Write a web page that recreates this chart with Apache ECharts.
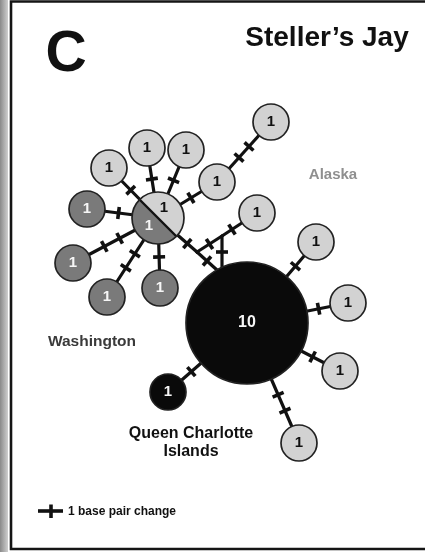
<!DOCTYPE html>
<html><head><meta charset="utf-8">
<script src="https://cdn.jsdelivr.net/npm/echarts@6/dist/echarts.min.js"></script>
<style>html,body{margin:0;padding:0;background:#fff}#c{width:425px;height:552px}</style>
</head><body><div id="c"></div>
<script>
// Haplotype nodes (J* = unsampled junctions / attachment points)
const nodeIds     = ['S','AK1','AK2','AK3','AK4','AK5','AK6','AK7','AK8','AK9','AK10','WA1','WA2','WA3','WA4','BIG','QC1','J1','J2','J3','J4'];
const nodeX       = [158, 109, 147, 186, 217, 271, 257, 316, 348, 340, 299,  87,  73, 107, 160, 247, 168, 197, 222, 217, 222];
const nodeY       = [218, 168, 148, 150, 182, 122, 213, 242, 303, 371, 443, 209, 263, 297, 288, 323, 392, 252, 236, 270, 268];
const alaskaN     = [  1,   1,   1,   1,   1,   1,   1,   1,   1,   1,   1,   0,   0,   0,   0,   0,   0,   0,   0,   0,   0];
const washingtonN = [  1,   0,   0,   0,   0,   0,   0,   0,   0,   0,   0,   1,   1,   1,   1,   0,   0,   0,   0,   0,   0];
const qciN        = [  0,   0,   0,   0,   0,   0,   0,   0,   0,   0,   0,   0,   0,   0,   0,  10,   1,   0,   0,   0,   0];

// Edges with number of base pair changes
const edgeFrom    = ['S','S','S','S','AK4','S','S','S','S','S','J1','J1','J2','J2','BIG','BIG','BIG','BIG','BIG'];
const edgeTo      = ['AK1','AK2','AK3','AK4','AK5','WA1','WA2','WA3','WA4','J1','J3','J2','AK6','J4','AK7','AK8','AK9','AK10','QC1'];
const edgeChanges = [1,1,1,1,2,1,2,2,1,1,1,1,1,1,1,1,1,2,1];

const FONT = '"Liberation Sans", Arial, Helvetica, sans-serif';
const LIGHT = '#d2d2d2', DARK = '#7a7a7a', BLACK = '#0a0a0a';

function total(i){ return alaskaN[i] + washingtonN[i] + qciN[i]; }
function radius(n){ return n === 0 ? 0 : 18 * Math.pow(n, 0.53); }

const nodeData = nodeIds.map((id, i) => [nodeX[i], nodeY[i], alaskaN[i], washingtonN[i], qciN[i]]);
const edgeData = edgeFrom.map((f, k) => {
  const a = nodeIds.indexOf(f), b = nodeIds.indexOf(edgeTo[k]);
  return [nodeX[a], nodeY[a], nodeX[b], nodeY[b], radius(total(a)), radius(total(b)), edgeChanges[k]];
});

function renderEdge(params, api){
  const p1 = api.coord([api.value(0), api.value(1)]);
  const p2 = api.coord([api.value(2), api.value(3)]);
  const r1 = api.value(4), r2 = api.value(5), n = api.value(6);
  const dx = p2[0]-p1[0], dy = p2[1]-p1[1], L = Math.hypot(dx, dy), ux = dx/L, uy = dy/L;
  const children = [{type:'line', shape:{x1:p1[0],y1:p1[1],x2:p2[0],y2:p2[1]}, style:{stroke:'#111', lineWidth:3.2, lineCap:'round'}}];
  const a = r1, b = L - r2, h = 6;
  for (let i = 1; i <= n; i++){
    const t = a + (b - a) * i / (n + 1);
    const cx = p1[0] + ux*t, cy = p1[1] + uy*t;
    children.push({type:'line', shape:{x1:cx-uy*h, y1:cy+ux*h, x2:cx+uy*h, y2:cy-ux*h}, style:{stroke:'#111', lineWidth:3.6}});
  }
  return {type:'group', children};
}

function label(x, y, txt, fill, size){
  return {type:'text', x:x, y:y, style:{text:String(txt), fill:fill, font:'bold '+size+'px '+FONT, align:'center', verticalAlign:'middle'}};
}

function renderNode(params, api){
  const p = api.coord([api.value(0), api.value(1)]);
  const ak = api.value(2), wa = api.value(3), qc = api.value(4);
  const n = ak + wa + qc;
  if (n === 0) return {type:'group', children:[]};
  const r = radius(n);
  const children = [];
  const parts = [ak>0, wa>0, qc>0].filter(Boolean).length;
  if (parts > 1){
    const d = Math.PI/180;
    children.push({type:'sector', shape:{cx:p[0], cy:p[1], r:r, r0:0, startAngle:225*d, endAngle:405*d, clockwise:true}, style:{fill:LIGHT}});
    children.push({type:'sector', shape:{cx:p[0], cy:p[1], r:r, r0:0, startAngle:45*d, endAngle:225*d, clockwise:true}, style:{fill:DARK}});
    const c = Math.SQRT1_2 * r;
    children.push({type:'line', shape:{x1:p[0]-c, y1:p[1]-c, x2:p[0]+c, y2:p[1]+c}, style:{stroke:'#111', lineWidth:2.2}});
    children.push({type:'circle', shape:{cx:p[0], cy:p[1], r:r}, style:{fill:'none', stroke:'#222', lineWidth:1.7}});
    children.push(label(p[0]+6, p[1]-10, ak, '#111', 15));
    children.push(label(p[0]-9, p[1]+8, wa, '#f4f4f4', 15));
  } else {
    const fill = ak ? LIGHT : (wa ? DARK : BLACK);
    const tc = ak ? '#111' : '#f6f6f6';
    children.push({type:'circle', shape:{cx:p[0], cy:p[1], r:r}, style:{fill:fill, stroke:'#222', lineWidth:1.7}});
    children.push(label(p[0], p[1], n, tc, n >= 10 ? 16 : 15));
  }
  return {type:'group', children};
}

const chart = echarts.init(document.getElementById('c'), null, {renderer:'canvas'});
chart.setOption({
  animation:false,
  backgroundColor:'#ffffff',
  grid:{left:0, right:0, top:0, bottom:0},
  xAxis:{type:'value', min:0, max:425, show:false},
  yAxis:{type:'value', min:0, max:552, inverse:true, show:false},
  series:[
    {type:'custom', data:edgeData, renderItem:renderEdge, encode:{x:[0,2], y:[1,3]}, clip:false, silent:true, z:1},
    {type:'custom', data:nodeData, renderItem:renderNode, encode:{x:0, y:1}, clip:false, silent:true, z:2}
  ],
  graphic:[
    {type:'rect', left:0, top:0, shape:{x:0, y:0, width:8, height:552}, style:{fill:new echarts.graphic.LinearGradient(0,0,1,0,[{offset:0,color:'#8a8a8a'},{offset:1,color:'#cfcfcf'}])}, z:0},
    {type:'rect', shape:{x:11, y:1.5, width:430, height:547.5}, style:{fill:'none', stroke:'#151515', lineWidth:2.6}, z:0},
    {type:'text', x:66, y:55, style:{text:'C', font:'bold 57px '+FONT, fill:'#111', align:'center', verticalAlign:'middle'}},
    {type:'text', x:327, y:38, style:{text:'Steller\u2019s Jay', font:'bold 28px '+FONT, fill:'#111', align:'center', verticalAlign:'middle'}},
    {type:'text', x:333, y:175, style:{text:'Alaska', font:'bold 15px '+FONT, fill:'#8f8f8f', align:'center', verticalAlign:'middle'}},
    {type:'text', x:92, y:342, style:{text:'Washington', font:'bold 15.5px '+FONT, fill:'#3a3a3a', align:'center', verticalAlign:'middle'}},
    {type:'text', x:191, y:434, style:{text:'Queen Charlotte', font:'bold 16px '+FONT, fill:'#111', align:'center', verticalAlign:'middle'}},
    {type:'text', x:191, y:452, style:{text:'Islands', font:'bold 16px '+FONT, fill:'#111', align:'center', verticalAlign:'middle'}},
    {type:'line', shape:{x1:38, y1:511, x2:63, y2:511}, style:{stroke:'#111', lineWidth:3.6}},
    {type:'line', shape:{x1:51, y1:504.5, x2:51, y2:518}, style:{stroke:'#111', lineWidth:3.6}},
    {type:'text', x:68, y:511.5, style:{text:'1 base pair change', font:'bold 12px '+FONT, fill:'#111', align:'left', verticalAlign:'middle'}}
  ]
});
</script></body></html>
